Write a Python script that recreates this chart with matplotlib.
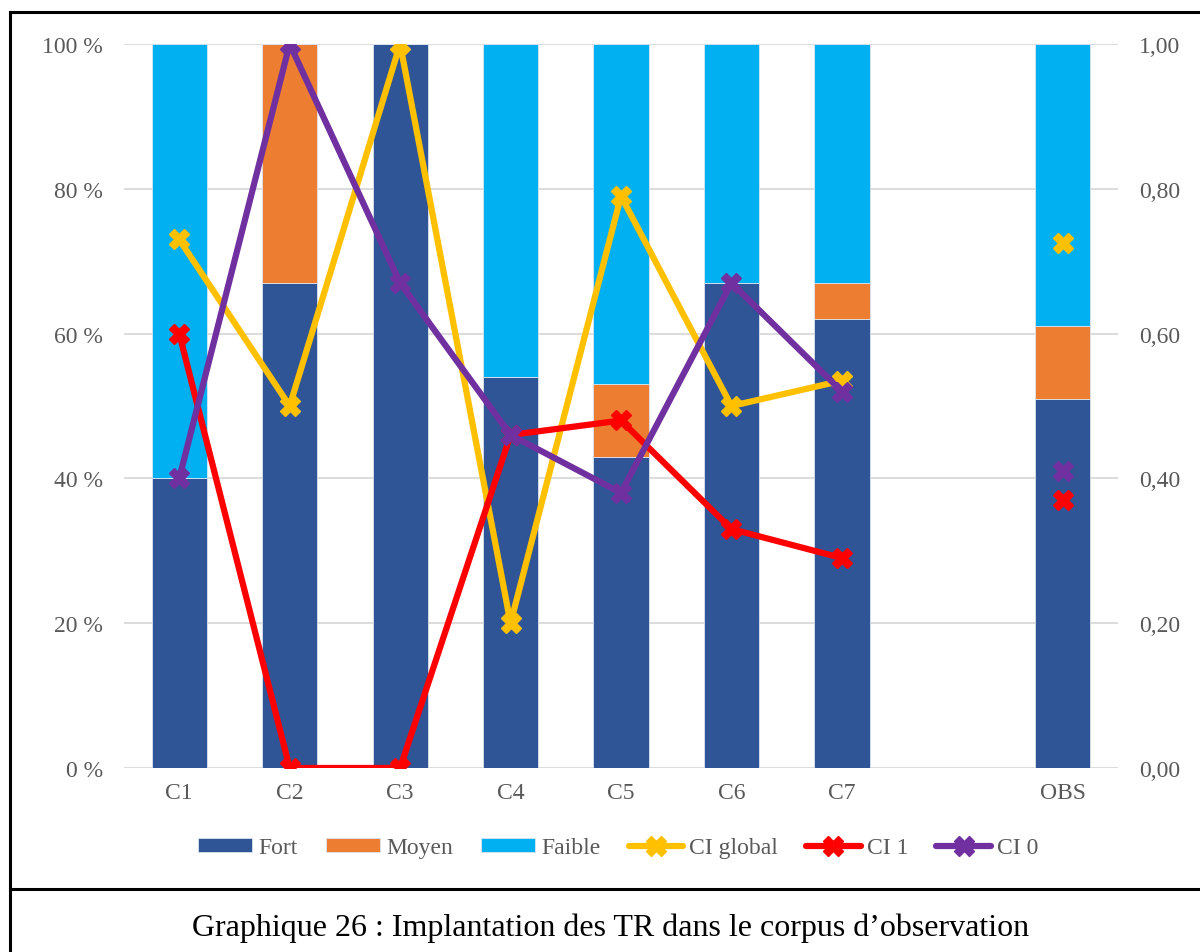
import numpy as np
import matplotlib
matplotlib.use("Agg")
import matplotlib.pyplot as plt
from matplotlib.lines import Line2D

plt.rcParams['font.family'] = ['Liberation Serif', 'DejaVu Serif']

categories = ["C1", "C2", "C3", "C4", "C5", "C6", "C7", "", "OBS"]
fort   = [40, 67, 100, 54, 43, 67, 62, np.nan, 51]
moyen  = [0, 33, 0, 0, 10, 0, 5, np.nan, 10]
faible = [60, 0, 0, 46, 47, 33, 33, np.nan, 39]
ci_global = [0.73, 0.50, 1.00, 0.20, 0.79, 0.50, 0.535, np.nan, 0.725]
ci_1      = [0.60, 0.00, 0.00, 0.46, 0.48, 0.33, 0.29, np.nan, 0.37]
ci_0      = [0.40, 1.00, 0.67, 0.46, 0.38, 0.67, 0.52, np.nan, 0.41]

c_fort, c_moyen, c_faible = "#2F5597", "#ED7D31", "#00B0F0"
c_glob, c_ci1, c_ci0 = "#FFC000", "#FF0000", "#7030A0"
gray = "#595959"

fig = plt.figure(figsize=(12, 9.53), dpi=100)
ax = fig.add_axes([124/1200, 1-769/953, (1118-124)/1200, (769-45)/953])
ax2 = ax.twinx()

x = np.arange(len(categories))
f = np.nan_to_num(fort); m = np.nan_to_num(moyen); fa = np.nan_to_num(faible)
w = 0.5
ax.bar(x, f, w, color=c_fort, edgecolor="#DCE3F0", linewidth=0.6, label="Fort", zorder=2)
ax.bar(x, m, w, bottom=f, color=c_moyen, edgecolor="#DCE3F0", linewidth=0.6, label="Moyen", zorder=2)
ax.bar(x, fa, w, bottom=f+m, color=c_faible, edgecolor="#DCE3F0", linewidth=0.6, label="Faible", zorder=2)

ax.set_xlim(-0.5, len(categories)-0.5)
ax.set_ylim(0, 100)
ax.set_yticks(np.arange(0, 101, 20))
ax.set_yticklabels([f"{v} %" for v in range(0, 101, 20)])
ax.yaxis.grid(True, color="#D9D9D9", linewidth=1.3, zorder=0)
ax.set_axisbelow(True)
ax.set_xticks(x)
ax.set_xticklabels(categories)
for s in ax.spines.values():
    s.set_visible(False)
for s in ax2.spines.values():
    s.set_visible(False)
ax.tick_params(axis='both', length=0, labelsize=17, colors=gray)
ax.tick_params(axis='y', pad=15)
ax.tick_params(axis='x', pad=10)

lk = dict(linewidth=4.5, marker='X', markersize=15, solid_capstyle='round', solid_joinstyle='round')
ax2.plot(x, ci_global, color=c_glob, label="CI global", **lk)
ax2.plot(x, ci_1, color=c_ci1, label="CI 1", **lk)
ax2.plot(x, ci_0, color=c_ci0, label="CI 0", **lk)
ax2.set_ylim(0, 1)
ax2.set_yticks(np.arange(0, 1.01, 0.2))
ax2.set_yticklabels([f"{v:.2f}".replace(".", ",") for v in np.arange(0, 1.01, 0.2)])
ax2.tick_params(axis='y', length=0, labelsize=17, colors=gray, pad=15)

h1, l1 = ax.get_legend_handles_labels()
h2, l2 = ax2.get_legend_handles_labels()
leg = fig.legend(h1+h2, l1+l2, loc='center', bbox_to_anchor=(0.515, 1-849/953), ncol=6,
                 frameon=False, fontsize=17, handlelength=2.3, handleheight=0.55,
                 handletextpad=0.25, columnspacing=1.2, numpoints=1)
for t in leg.get_texts():
    t.set_color(gray)

# frame lines
fig.add_artist(Line2D([10/1200, 10/1200], [0, 1-13/953], color="black", linewidth=2.2, transform=fig.transFigure))
fig.add_artist(Line2D([10/1200, 1], [1-13/953, 1-13/953], color="black", linewidth=2.2, transform=fig.transFigure))
fig.add_artist(Line2D([10/1200, 1], [1-890/953, 1-890/953], color="black", linewidth=2.2, transform=fig.transFigure))

fig.text(611/1200, 1-928/953, "Graphique 26 : Implantation des TR dans le corpus d\u2019observation",
         ha='center', va='center', fontsize=23, color="black")

fig.savefig("out.png", dpi=100)
